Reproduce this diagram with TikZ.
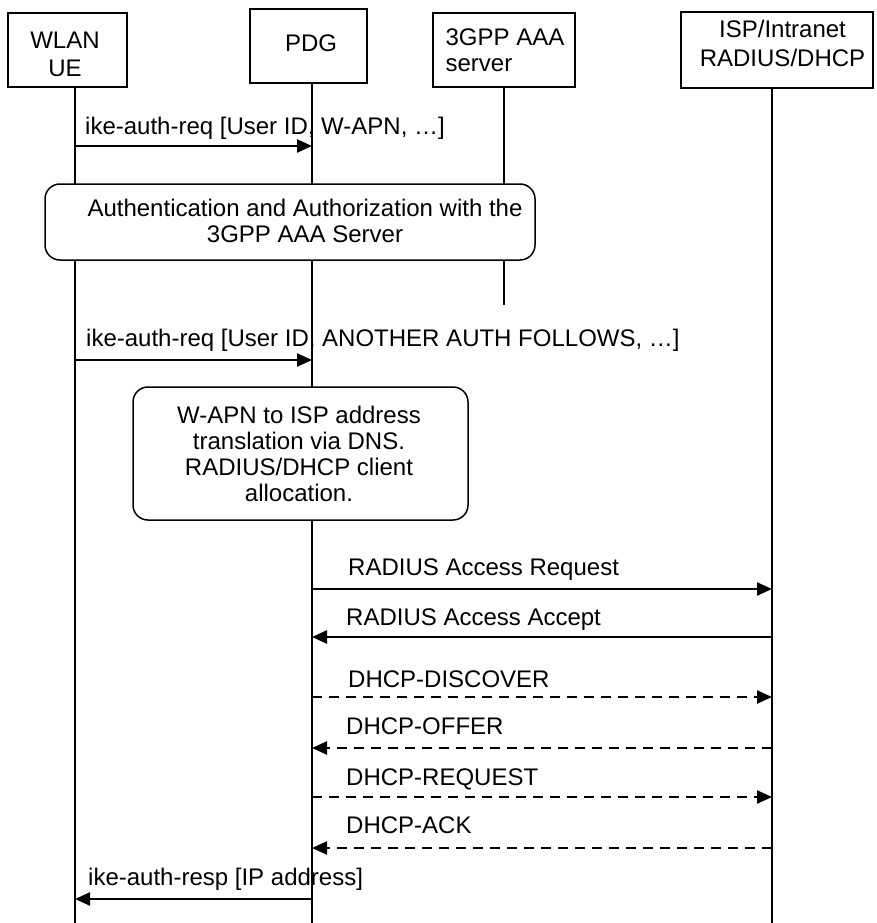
\documentclass[tikz,border=0pt]{standalone}
\usepackage{fontspec}
\setmainfont{Liberation Sans}
\usetikzlibrary{arrows.meta}
\begin{document}
\begin{tikzpicture}[x=1pt,y=-1pt,
  font=\fontsize{24}{26}\selectfont,
  hdr/.style={draw, line width=1.3pt, inner sep=0pt, fill=white},
  txt/.style={anchor=north, inner sep=0pt, align=center},
  life/.style={line width=1.3pt},
  msg/.style={line width=2.4pt, -{Triangle[length=15pt,width=13pt]}},
  dmsg/.style={msg, dash pattern=on 10pt off 7pt},
  lbl/.style={anchor=base west, inner sep=0pt},
  rbox/.style={draw, line width=1.5pt, rounded corners=15pt, fill=white, inner sep=0pt}]
\useasboundingbox (0,0) rectangle (877,923);

% lifeline end points
\coordinate (ueTop) at (75,87);   \coordinate (ueBot) at (75,923);
\coordinate (pdgTop) at (312,83); \coordinate (pdgBot) at (312,923);
\coordinate (aaaTop) at (504,87); \coordinate (aaaBot) at (504,305);
\coordinate (ispTop) at (772,88); \coordinate (ispBot) at (772,923);

% lifelines
\draw[life] (ueTop) -- (ueBot);
\draw[life] (pdgTop) -- (pdgBot);
\draw[life] (aaaTop) -- (aaaBot);
\draw[life] (ispTop) -- (ispBot);

% header boxes
\node[hdr, minimum width=119pt, minimum height=74pt] (ue) at (67.5,50) {};
\node[hdr, minimum width=117pt, minimum height=74pt] (pdg) at (308.5,46) {};
\node[hdr, minimum width=142pt, minimum height=74pt] (aaa) at (504,50) {};
\node[hdr, minimum width=192pt, minimum height=76pt] (isp) at (777,50) {};
\node[txt, font=\fontsize{24}{28}\selectfont] (uet) at (65,31.5) {WLAN\\UE};
\node[txt] (pdgt) at (311,35) {PDG};
\node[txt, align=left] (aaat) at (505,29) {3GPP AAA\\server};
\node[txt, font=\fontsize{24}{29}\selectfont] (ispt) at (782.5,19.5) {ISP/Intranet\\RADIUS/DHCP};

% message coordinates
\coordinate (m1a) at (75,146);  \coordinate (m1b) at (312,146);
\coordinate (m2a) at (75,360);  \coordinate (m2b) at (312,360);
\coordinate (m3a) at (312,589); \coordinate (m3b) at (772,589);
\coordinate (m4a) at (772,637); \coordinate (m4b) at (312,637);
\coordinate (m5a) at (312,697); \coordinate (m5b) at (772,697);
\coordinate (m6a) at (772,748); \coordinate (m6b) at (312,748);
\coordinate (m7a) at (312,797); \coordinate (m7b) at (772,797);
\coordinate (m8a) at (772,848); \coordinate (m8b) at (312,848);
\coordinate (m9a) at (312,899); \coordinate (m9b) at (75,899);

% messages
\draw[msg] (m1a) -- (m1b);
\node[lbl] (l1) at (85,135) {ike-auth-req [User ID, W-APN, …]};

\node[rbox, minimum width=490pt, minimum height=76pt] (auth) at (290,222) {};
\node[txt] (autht) at (305,199) {Authentication and Authorization with the\\3GPP AAA Server};

\draw[msg] (m2a) -- (m2b);
\node[lbl] (l2) at (86,346) {ike-auth-req [User ID, ANOTHER AUTH FOLLOWS, …]};

\node[rbox, minimum width=335pt, minimum height=133pt] (dns) at (300.5,453.5) {};
\node[txt] (dnst) at (299,406) {W-APN to ISP address\\translation via DNS.\\RADIUS/DHCP client\\allocation.};

\draw[msg] (m3a) -- (m3b);
\node[lbl] (l3) at (348,575) {RADIUS Access Request};
\draw[msg] (m4a) -- (m4b);
\node[lbl] (l4) at (346,625) {RADIUS Access Accept};
\draw[dmsg] (m5a) -- (m5b);
\node[lbl] (l5) at (348,687) {DHCP-DISCOVER};
\draw[dmsg] (m6a) -- (m6b);
\node[lbl] (l6) at (346,734) {DHCP-OFFER};
\draw[dmsg] (m7a) -- (m7b);
\node[lbl] (l7) at (346,785) {DHCP-REQUEST};
\draw[dmsg] (m8a) -- (m8b);
\node[lbl] (l8) at (346,833) {DHCP-ACK};
\draw[msg] (m9a) -- (m9b);
\node[lbl] (l9) at (88,885) {ike-auth-resp [IP address]};
\end{tikzpicture}
\end{document}
